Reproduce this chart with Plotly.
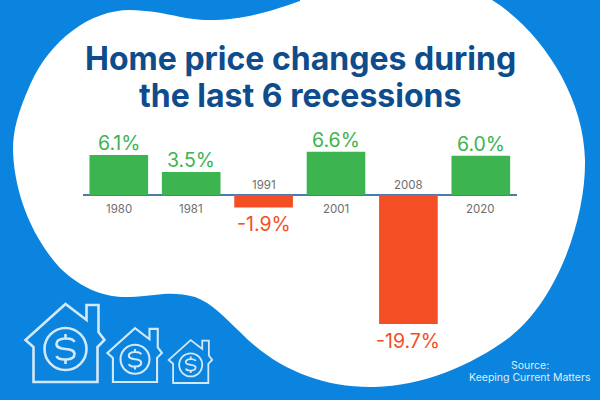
import plotly.graph_objects as go

# ---- data ----
years = ["1980", "1981", "1991", "2001", "2008", "2020"]
changes = [6.1, 3.5, -1.9, 6.6, -19.7, 6.0]
value_labels = ["6.1%", "3.5%", "-1.9%", "6.6%", "-19.7%", "6.0%"]
title_lines = ["Home price changes during", "the last 6 recessions"]
source_lines = ["Source:", "Keeping Current Matters"]

# ---- style ----
W, H = 600, 400
BLUE = "#0A84DF"
GREEN = "#3CB44F"
ORANGE = "#F44E24"
NAVY = "#0F4C8C"
GRAY = "#6E6E6E"
AXIS = "#4F7BAA"
ICON = "#D3E8F9"
FONT = "Inter"
PX_PER_UNIT = 6.55
ZERO_Y = 195.0
PLOT_L, PLOT_R = 82.6, 517.0


def px(x):
    return x / W


def py(y):
    return 1 - y / H


def pth(cmds):
    """Build an SVG path in paper fractions from pixel commands."""
    out = []
    for c in cmds:
        if isinstance(c, str):
            out.append(c)
        else:
            out.append(f"{px(c[0]):.5f},{py(c[1]):.5f}")
    return " ".join(out)


blob = [
    "M", (300, 1),
    "C", (280, 8), (245, 21), (205, 20),
    "C", (180, 19), (165, 11), (130, 10),
    "C", (90, 10), (50, 40), (30, 85),
    "C", (18, 112), (13, 130), (13, 150),
    "C", (14, 190), (30, 235), (60, 268),
    "C", (85, 292), (110, 298), (130, 297),
    "C", (155, 296), (170, 290), (195, 297),
    "C", (212, 303), (225, 318), (240, 332),
    "C", (275, 368), (320, 388), (375, 387),
    "C", (420, 386), (470, 367), (510, 337),
    "C", (560, 297), (586, 215), (585, 160),
    "C", (584, 95), (540, 30), (492, 0),
    "L", (492, -20), "L", (300, -20), "Z",
]

shapes = [dict(type="path", xref="paper", yref="paper", path=pth(blob),
               fillcolor="white", line=dict(width=0), layer="below")]


def house(cx, base, s, lw):
    """Outline icon of a house with a chimney and a circled dollar sign."""
    def P(dx, dy):
        return (cx + dx * s, base + dy * s)
    body = [
        "M", P(-32, -35), "L", P(-32, 0), "L", P(32, 0), "L", P(32, -35),
        "L", P(39, -42), "L", P(33, -50), "L", P(33, -77), "L", P(21, -77),
        "L", P(21, -62), "L", P(0, -78), "L", P(-40, -42), "Z",
    ]
    ring_r = 21
    ring = dict(type="circle", xref="paper", yref="paper",
                x0=px(cx - ring_r * s), x1=px(cx + ring_r * s),
                y0=py(base - 33 * s + ring_r * s), y1=py(base - 33 * s - ring_r * s),
                line=dict(color=ICON, width=lw), fillcolor="rgba(0,0,0,0)")
    dollar = [
        "M", P(9, -40),
        "C", P(7, -45), P(-9, -45), P(-9, -38),
        "C", P(-9, -30), P(9, -36), P(9, -28),
        "C", P(9, -21), P(-7, -21), P(-9, -26),
        "M", P(0, -48), "L", P(0, -43),
        "M", P(0, -23), "L", P(0, -18),
    ]
    return [
        dict(type="path", xref="paper", yref="paper", path=pth(body),
             line=dict(color=ICON, width=lw), fillcolor="rgba(0,0,0,0)"),
        ring,
        dict(type="path", xref="paper", yref="paper", path=pth(dollar),
             line=dict(color=ICON, width=lw), fillcolor="rgba(0,0,0,0)"),
    ]


shapes += house(65.5, 382, 1.0, 2.6)
shapes += house(135, 382, 0.69, 2.1)
shapes += house(190.7, 383, 0.55, 1.8)

colors = [GREEN if v >= 0 else ORANGE for v in changes]
positions = list(range(len(years)))

fig = go.Figure(go.Bar(
    x=positions, y=changes, marker=dict(color=colors, line=dict(width=0)),
    width=0.81, hoverinfo="skip",
))

annotations = []
for line, cy in zip(title_lines, (59, 95)):
    annotations.append(dict(
        text=line, xref="paper", yref="paper", x=0.5, y=py(cy),
        xanchor="center", yanchor="middle", showarrow=False,
        font=dict(family=FONT, size=32, color=NAVY, weight=700)))
for line, cy in zip(source_lines, (365, 377)):
    annotations.append(dict(
        text=line, xref="paper", yref="paper", x=px(529.5), y=py(cy),
        xanchor="center", yanchor="middle", showarrow=False,
        font=dict(family=FONT, size=10.5, color="#DCEEFB")))
for i, yr, v, lab, col in zip(positions, years, changes, value_labels, colors):
    annotations.append(dict(
        text=lab, x=i, y=v, xref="x", yref="y", showarrow=False,
        xanchor="center", yanchor="middle", yshift=12 if v >= 0 else -17,
        font=dict(family=FONT, size=19.5, color=col),
    ))
    annotations.append(dict(
        text=yr, x=i, y=0, xref="x", yref="y", showarrow=False,
        xanchor="center", yanchor="middle", yshift=-14 if v >= 0 else 10,
        font=dict(family=FONT, size=11.5, color=GRAY),
    ))

fig.update_layout(
    width=W, height=H, margin=dict(l=0, r=0, t=0, b=0, pad=0), autosize=False,
    paper_bgcolor=BLUE, plot_bgcolor="rgba(0,0,0,0)", showlegend=False,
    shapes=shapes, annotations=annotations,
    xaxis=dict(domain=[px(PLOT_L), px(PLOT_R)], range=[-0.5, 5.5], showgrid=False,
               showticklabels=False, ticks="", zeroline=False, showline=False),
    yaxis=dict(range=[-(H - ZERO_Y) / PX_PER_UNIT, ZERO_Y / PX_PER_UNIT], showgrid=False,
               showticklabels=False, ticks="", zeroline=True, zerolinecolor=AXIS,
               zerolinewidth=1.5, showline=False),
)

fig.write_html("out.html", config=dict(displayModeBar=False),
               post_script="document.body.style.margin='0';")
